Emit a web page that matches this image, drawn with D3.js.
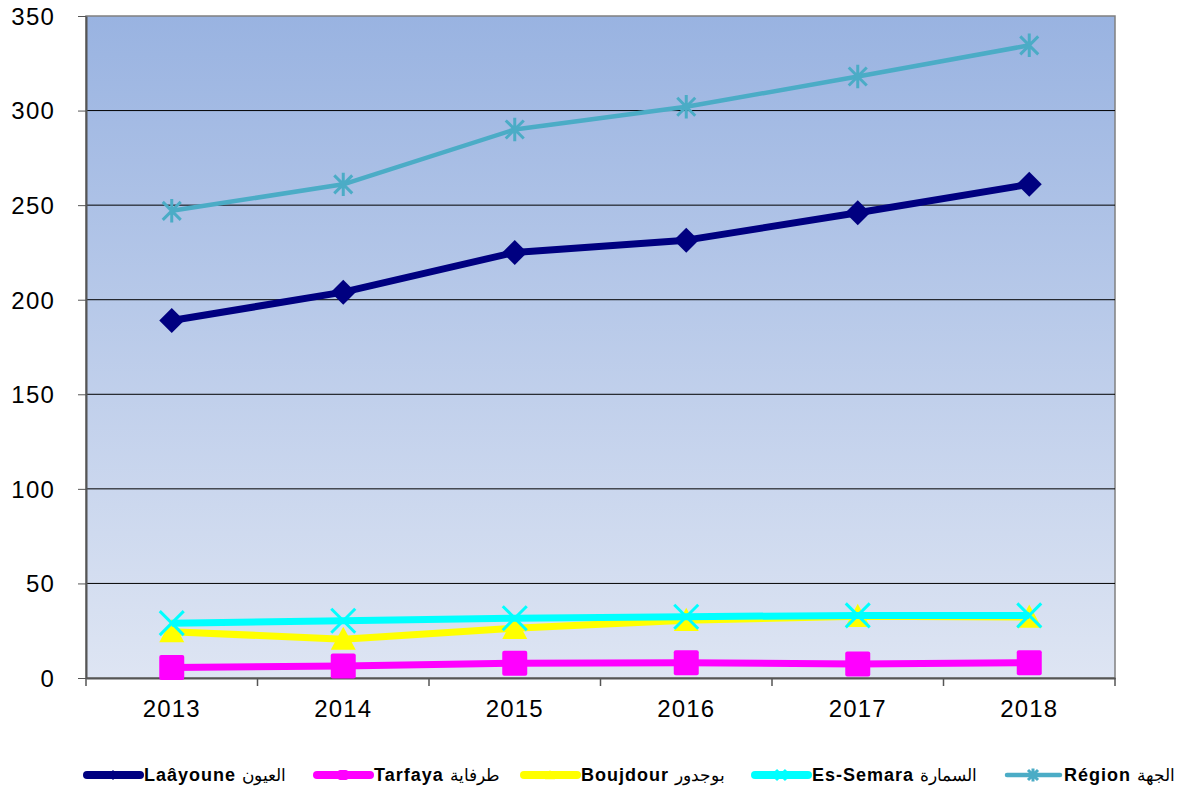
<!DOCTYPE html>
<html lang="fr">
  <head>
    <meta charset="UTF-8" />
    <title>Laâyoune-Sakia El Hamra</title>
    <style>
      body {
        margin: 0;
        background: #fff;
        font-family: "Liberation Sans", Arial, sans-serif;
      }
      .tick text {
        font-size: 24px;
        letter-spacing: 1.2px;
        fill: #000;
      }
      .legend text {
        font-size: 18px;
        font-weight: bold;
        letter-spacing: 1px;
      }
      .legend .ar {
        font-weight: normal;
        font-size: 17px;
        letter-spacing: 0;
      }
    </style>
  </head>
  <body>
    <svg id="chart" width="1191" height="792"></svg>
    <script src="https://cdn.jsdelivr.net/npm/d3@7"></script>
    <script>
      const years = ["2013", "2014", "2015", "2016", "2017", "2018"];
      const yTicks = [0, 50, 100, 150, 200, 250, 300, 350];

      const laayoune = [189, 204, 225, 231.5, 246, 261];
      const tarfaya = [5.5, 6.3, 7.8, 8.1, 7.4, 8.1];
      const boujdour = [24.5, 20.5, 26.3, 30.5, 32.6, 32.2];
      const semara = [29, 30.3, 31.6, 32.4, 33.1, 33.1];
      const region = [247, 261, 290, 302, 318, 334.5];

      const latinNames = ["Laâyoune", "Tarfaya", "Boujdour", "Es-Semara", "Région"];
      const arabicNames = ["العيون", "طرفاية", "بوجدور", "السمارة", "الجهة"];

      const series = [
        { values: laayoune, color: "#000080", width: 7, marker: "diamond" },
        { values: tarfaya, color: "#FF00FF", width: 7, marker: "square" },
        { values: boujdour, color: "#FFFF00", width: 7, marker: "triangle" },
        { values: semara, color: "#00FFFF", width: 7, marker: "cross" },
        { values: region, color: "#4BACC6", width: 4.5, marker: "star" },
      ];

      const margin = { top: 16, right: 76, bottom: 114, left: 86 };
      const width = 1191 - margin.left - margin.right;
      const height = 792 - margin.top - margin.bottom;

      const svg = d3.select("#chart");
      const g = svg.append("g").attr("transform", `translate(${margin.left},${margin.top})`);

      const x = d3.scaleBand().domain(years).range([0, width]);
      const y = d3.scaleLinear().domain([0, 350]).range([height, 0]);

      // plot area gradient
      const defs = svg.append("defs");
      const grad = defs.append("linearGradient")
        .attr("id", "bg").attr("x1", 0).attr("y1", 0).attr("x2", 0).attr("y2", 1);
      grad.append("stop").attr("offset", "0%").attr("stop-color", "#99B3E1");
      grad.append("stop").attr("offset", "100%").attr("stop-color", "#DEE5F3");

      g.append("rect")
        .attr("width", width)
        .attr("height", height)
        .attr("fill", "url(#bg)")
        .attr("stroke", "#808080")
        .attr("stroke-width", 1.5);

      // gridlines
      g.append("g")
        .selectAll("line")
        .data(yTicks.filter(d => d > 0 && d < 350))
        .join("line")
        .attr("x1", 0)
        .attr("x2", width)
        .attr("y1", d => y(d))
        .attr("y2", d => y(d))
        .attr("stroke", "#000")
        .attr("stroke-width", 1);

      // axes
      const yAxis = g.append("g")
        .call(d3.axisLeft(y).tickValues(yTicks).tickSize(8).tickPadding(23).tickSizeOuter(0));
      yAxis.select(".domain").attr("stroke", "#555").attr("stroke-width", 2);
      yAxis.selectAll(".tick line").attr("stroke", "#555");
      yAxis.selectAll(".tick text").attr("dy", "0.35em");

      const xAxis = g.append("g")
        .attr("transform", `translate(0,${height})`)
        .call(d3.axisBottom(x).tickSize(0).tickPadding(22));
      xAxis.select(".domain").attr("stroke", "#555").attr("stroke-width", 2);
      xAxis.append("g")
        .selectAll("line")
        .data(d3.range(years.length + 1))
        .join("line")
        .attr("x1", i => i * x.bandwidth())
        .attr("x2", i => i * x.bandwidth())
        .attr("y1", 0)
        .attr("y2", 8)
        .attr("stroke", "#555")
        .attr("stroke-width", 1.5);

      const cx = i => x(years[i]) + x.bandwidth() / 2;

      function drawMarker(sel, type, color, s) {
        if (type === "diamond") {
          sel.append("path").attr("d", `M0,${-s}L${s},0L0,${s}L${-s},0Z`).attr("fill", color);
        } else if (type === "square") {
          sel.append("rect").attr("x", -s).attr("y", -s).attr("width", 2 * s).attr("height", 2 * s)
            .attr("rx", 2).attr("fill", color);
        } else if (type === "triangle") {
          sel.append("path").attr("d", `M0,${-s}L${s},${s * 0.85}L${-s},${s * 0.85}Z`).attr("fill", color);
        } else if (type === "cross") {
          sel.append("path").attr("d", `M${-s},${-s}L${s},${s}M${s},${-s}L${-s},${s}`)
            .attr("stroke", color).attr("stroke-width", 3);
        } else if (type === "star") {
          sel.append("path").attr("d", `M${-s},${-s}L${s},${s}M${s},${-s}L${-s},${s}M0,${-s * 1.3}L0,${s * 1.3}`)
            .attr("stroke", color).attr("stroke-width", 3);
        }
      }

      const markerSize = { diamond: 12.5, square: 12.5, triangle: 12.5, cross: 12, star: 9 };

      const line = d3.line().x((d, i) => cx(i)).y(d => y(d));

      series.forEach(s => {
        const sg = g.append("g");
        sg.append("path")
          .datum(s.values)
          .attr("d", line)
          .attr("fill", "none")
          .attr("stroke", s.color)
          .attr("stroke-width", s.width)
          .attr("stroke-linejoin", "round");
        s.values.forEach((v, i) => {
          const m = sg.append("g").attr("transform", `translate(${cx(i)},${y(v)})`);
          drawMarker(m, s.marker, s.color, markerSize[s.marker]);
        });
      });

      // legend
      const legendX = [85, 315, 522, 753, 1005];
      const legend = svg.append("g").attr("class", "legend").attr("transform", "translate(0,775)");
      series.forEach((s, i) => {
        const lg = legend.append("g").attr("transform", `translate(${legendX[i]},0)`);
        lg.append("line")
          .attr("x1", 2).attr("x2", 55).attr("y1", 0).attr("y2", 0)
          .attr("stroke", s.color)
          .attr("stroke-width", i === 4 ? 4.5 : 8)
          .attr("stroke-linecap", "round");
        const m = lg.append("g").attr("transform", "translate(28,0)");
        drawMarker(m, s.marker, s.color, 5);
        const t = lg.append("text")
          .attr("x", 59)
          .attr("dy", "0.36em");
        t.append("tspan").text(latinNames[i] + " ");
        t.append("tspan").attr("class", "ar").text(arabicNames[i]);
      });
    </script>
  </body>
</html>
